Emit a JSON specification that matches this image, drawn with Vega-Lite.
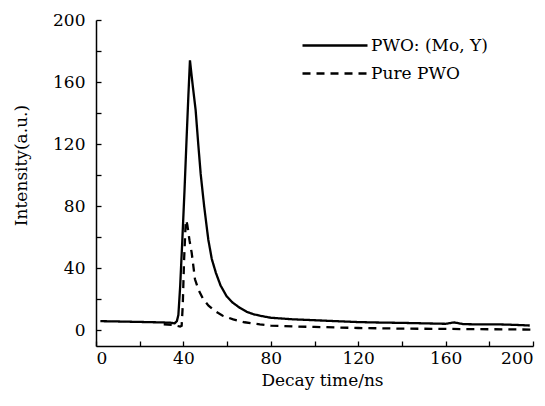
{
  "$schema": "https://vega.github.io/schema/vega-lite/v6.json",
  "width": 437,
  "height": 326,
  "autosize": "none",
  "padding": {"left": 96, "top": 20, "right": 12, "bottom": 60},
  "background": "white",
  "data": {
    "values": [
      {"t": 2, "v": 6.0, "s": "PWO: (Mo, Y)"},
      {"t": 10, "v": 5.8, "s": "PWO: (Mo, Y)"},
      {"t": 20, "v": 5.5, "s": "PWO: (Mo, Y)"},
      {"t": 30, "v": 5.2, "s": "PWO: (Mo, Y)"},
      {"t": 34, "v": 5.0, "s": "PWO: (Mo, Y)"},
      {"t": 36, "v": 4.6, "s": "PWO: (Mo, Y)"},
      {"t": 37, "v": 6, "s": "PWO: (Mo, Y)"},
      {"t": 37.7, "v": 10, "s": "PWO: (Mo, Y)"},
      {"t": 38.5, "v": 28, "s": "PWO: (Mo, Y)"},
      {"t": 39.5, "v": 58, "s": "PWO: (Mo, Y)"},
      {"t": 40.5, "v": 90, "s": "PWO: (Mo, Y)"},
      {"t": 41.5, "v": 125, "s": "PWO: (Mo, Y)"},
      {"t": 42.3, "v": 152, "s": "PWO: (Mo, Y)"},
      {"t": 43, "v": 174, "s": "PWO: (Mo, Y)"},
      {"t": 43.7, "v": 165, "s": "PWO: (Mo, Y)"},
      {"t": 44.5, "v": 155, "s": "PWO: (Mo, Y)"},
      {"t": 45.6, "v": 142, "s": "PWO: (Mo, Y)"},
      {"t": 46.8, "v": 120, "s": "PWO: (Mo, Y)"},
      {"t": 47.9, "v": 101, "s": "PWO: (Mo, Y)"},
      {"t": 49.5, "v": 80, "s": "PWO: (Mo, Y)"},
      {"t": 51.4, "v": 58.5, "s": "PWO: (Mo, Y)"},
      {"t": 53, "v": 46, "s": "PWO: (Mo, Y)"},
      {"t": 54.9, "v": 37, "s": "PWO: (Mo, Y)"},
      {"t": 57, "v": 29, "s": "PWO: (Mo, Y)"},
      {"t": 59.8, "v": 22, "s": "PWO: (Mo, Y)"},
      {"t": 62.5, "v": 18, "s": "PWO: (Mo, Y)"},
      {"t": 65.9, "v": 14.5, "s": "PWO: (Mo, Y)"},
      {"t": 69, "v": 12, "s": "PWO: (Mo, Y)"},
      {"t": 72, "v": 10.5, "s": "PWO: (Mo, Y)"},
      {"t": 75, "v": 9.5, "s": "PWO: (Mo, Y)"},
      {"t": 80, "v": 8.2, "s": "PWO: (Mo, Y)"},
      {"t": 90, "v": 7.2, "s": "PWO: (Mo, Y)"},
      {"t": 100, "v": 6.6, "s": "PWO: (Mo, Y)"},
      {"t": 110, "v": 6.0, "s": "PWO: (Mo, Y)"},
      {"t": 120, "v": 5.4, "s": "PWO: (Mo, Y)"},
      {"t": 130, "v": 5.1, "s": "PWO: (Mo, Y)"},
      {"t": 140, "v": 4.9, "s": "PWO: (Mo, Y)"},
      {"t": 150, "v": 4.6, "s": "PWO: (Mo, Y)"},
      {"t": 160, "v": 4.3, "s": "PWO: (Mo, Y)"},
      {"t": 164, "v": 5.2, "s": "PWO: (Mo, Y)"},
      {"t": 168, "v": 4.1, "s": "PWO: (Mo, Y)"},
      {"t": 175, "v": 3.9, "s": "PWO: (Mo, Y)"},
      {"t": 185, "v": 3.9, "s": "PWO: (Mo, Y)"},
      {"t": 192, "v": 3.6, "s": "PWO: (Mo, Y)"},
      {"t": 198.5, "v": 3.2, "s": "PWO: (Mo, Y)"},
      {"t": 31, "v": 4.0, "s": "Pure PWO"},
      {"t": 35, "v": 3.5, "s": "Pure PWO"},
      {"t": 37, "v": 3.0, "s": "Pure PWO"},
      {"t": 38.5, "v": 2.5, "s": "Pure PWO"},
      {"t": 39.2, "v": 3.0, "s": "Pure PWO"},
      {"t": 39.7, "v": 16, "s": "Pure PWO"},
      {"t": 40.3, "v": 45, "s": "Pure PWO"},
      {"t": 41, "v": 68, "s": "Pure PWO"},
      {"t": 41.3, "v": 71, "s": "Pure PWO"},
      {"t": 41.8, "v": 68, "s": "Pure PWO"},
      {"t": 42.8, "v": 58, "s": "Pure PWO"},
      {"t": 43.8, "v": 50, "s": "Pure PWO"},
      {"t": 45.3, "v": 33, "s": "Pure PWO"},
      {"t": 47, "v": 26, "s": "Pure PWO"},
      {"t": 49.1, "v": 20, "s": "Pure PWO"},
      {"t": 51.5, "v": 16, "s": "Pure PWO"},
      {"t": 54.5, "v": 12.4, "s": "Pure PWO"},
      {"t": 58, "v": 9.5, "s": "Pure PWO"},
      {"t": 62.8, "v": 7.1, "s": "Pure PWO"},
      {"t": 68, "v": 5.3, "s": "Pure PWO"},
      {"t": 75, "v": 3.9, "s": "Pure PWO"},
      {"t": 80, "v": 3.1, "s": "Pure PWO"},
      {"t": 90, "v": 2.6, "s": "Pure PWO"},
      {"t": 100, "v": 2.3, "s": "Pure PWO"},
      {"t": 120, "v": 1.6, "s": "Pure PWO"},
      {"t": 140, "v": 1.2, "s": "Pure PWO"},
      {"t": 160, "v": 1.0, "s": "Pure PWO"},
      {"t": 180, "v": 0.8, "s": "Pure PWO"},
      {"t": 199, "v": 0.6, "s": "Pure PWO"}
    ]
  },
  "mark": {"type": "line", "color": "black", "strokeWidth": 2.3},
  "encoding": {
    "x": {
      "field": "t", "type": "quantitative",
      "scale": {"domain": [0, 200], "nice": false, "zero": false},
      "axis": {
        "title": "Decay  time/ns",
        "values": [0, 20, 40, 60, 80, 100, 120, 140, 160, 180, 200],
        "labelExpr": "datum.value % 40 == 0 ? datum.label : ''",
        "labelPadding": 9,
        "titlePadding": 6,
        "titleX": 226
      }
    },
    "y": {
      "field": "v", "type": "quantitative",
      "scale": {"domain": [-10, 200], "nice": false, "zero": false},
      "axis": {
        "title": "Intensity(a.u.)",
        "values": [0, 20, 40, 60, 80, 100, 120, 140, 160, 180, 200],
        "labelExpr": "datum.value % 40 == 0 ? datum.label : ''",
        "labelPadding": 16,
        "titlePadding": 22,
        "titleY": 145
      }
    },
    "strokeDash": {
      "field": "s", "type": "nominal",
      "scale": {"domain": ["PWO: (Mo, Y)", "Pure PWO"], "range": [[1, 0], [8, 6]]},
      "legend": {
        "title": null,
        "orient": "none",
        "legendX": 250,
        "legendY": 14,
        "padding": 0,
        "symbolType": "M-5.5,0H1",
        "symbolSize": 400,
        "symbolStrokeWidth": 2.3,
        "symbolStrokeColor": "black",
        "symbolFillColor": "transparent",
        "labelOffset": 2,
        "rowPadding": 8,
        "labelFont": "DejaVu Serif",
        "labelFontSize": 17,
        "labelColor": "black",
        "labelLimit": 300
      }
    }
  },
  "config": {
    "view": {"stroke": null},
    "axis": {
      "grid": false,
      "domainColor": "black",
      "domainWidth": 1.5,
      "tickColor": "black",
      "tickWidth": 1.3,
      "tickSize": -5,
      "labelFont": "DejaVu Serif",
      "labelFontSize": 17,
      "labelColor": "black",
      "titleFont": "DejaVu Serif",
      "titleFontSize": 17,
      "titleFontWeight": "normal",
      "titleColor": "black"
    }
  }
}
